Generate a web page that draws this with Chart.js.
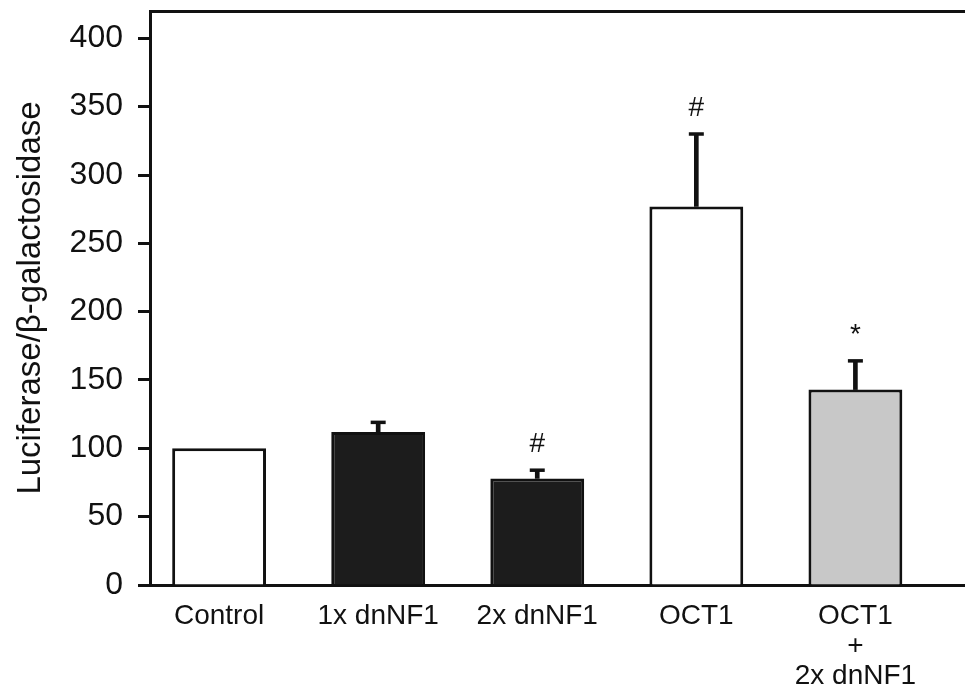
<!DOCTYPE html>
<html>
<head>
<meta charset="utf-8">
<script src="https://cdn.jsdelivr.net/npm/chart.js@4/dist/chart.umd.min.js"></script>
<style>
  html, body { margin: 0; padding: 0; background: #fff; }
  #wrap { width: 965px; height: 686px; }
</style>
</head>
<body>
<div id="wrap"><canvas id="c" width="965" height="686"></canvas></div>
<script>
// ---- data ----
const categories = ['Control', '1x dnNF1', '2x dnNF1', 'OCT1', ['OCT1', '+', '2x dnNF1']];
const values = [100, 112, 78, 277, 143];
const errors = [null, 7, 6, 53, 21];
const marks = ['', '', '#', '#', '*'];
const barColors = ['#ffffff', '#1c1c1c', '#1c1c1c', '#ffffff', '#c8c8c8'];
const yTicks = [0, 50, 100, 150, 200, 250, 300, 350, 400];
const yTitle = 'Luciferase/\u03B2-galactosidase';

const FONT = '"Liberation Sans", Arial, Helvetica, sans-serif';
const INK = '#111111';

const barData = values.map((v, i) => ({ x: i, y: v }));
const stemData = values.map((v, i) => errors[i] == null ? null : { x: i, y: [v, v + errors[i]] }).filter(d => d);
const capData = values.map((v, i) => errors[i] == null ? null : { x: i, y: v + errors[i] }).filter(d => d);

const markPlugin = {
  id: 'marks',
  afterDatasetsDraw(chart) {
    const { ctx, scales } = chart;
    ctx.save();
    ctx.fillStyle = INK;
    ctx.font = '28px ' + FONT;
    ctx.textAlign = 'center';
    ctx.textBaseline = 'alphabetic';
    marks.forEach((m, i) => {
      if (!m) return;
      const top = values[i] + (errors[i] || 0);
      const x = scales.x.getPixelForValue(i);
      const y = scales.y.getPixelForValue(top) - 18;
      ctx.fillText(m, x, y);
    });
    ctx.restore();
  }
};

const noPad = (s) => { s.paddingTop = 0; s.paddingBottom = 0; s.paddingLeft = 0; s.paddingRight = 0; };

new Chart(document.getElementById('c'), {
  data: {
    datasets: [
      {
        type: 'bar',
        data: barData,
        backgroundColor: barColors,
        borderColor: INK,
        borderWidth: 3,
        grouped: false,
        barPercentage: 1,
        categoryPercentage: 0.59,
        order: 1
      },
      {
        type: 'bar',
        data: stemData,
        backgroundColor: INK,
        borderWidth: 0,
        grouped: false,
        barThickness: 4,
        order: 2
      },
      {
        type: 'line',
        data: capData,
        showLine: false,
        pointStyle: 'line',
        pointRadius: 7.5,
        pointHoverRadius: 7.5,
        borderColor: INK,
        borderWidth: 3.5,
        order: 0
      }
    ]
  },
  options: {
    responsive: false,
    animation: false,
    events: [],
    layout: { autoPadding: false, padding: { top: 11, right: 0, left: 0, bottom: 0 } },
    plugins: { legend: { display: false }, tooltip: { enabled: false } },
    scales: {
      x: {
        type: 'linear',
        position: 'bottom',
        offset: false,
        min: -0.4344,
        max: 4.689,
        afterBuildTicks: (s) => { s.ticks = categories.map((_, i) => ({ value: i })); },
        afterFit: (s) => { s.height = 101; noPad(s); },
        grid: { display: false, offset: false },
        border: { display: true, color: INK, width: 3 },
        ticks: {
          autoSkip: false,
          maxRotation: 0,
          padding: 8,
          color: INK,
          font: { family: FONT, size: 28, lineHeight: 1.07 },
          callback: (v) => categories[v]
        }
      },
      x2: {
        type: 'linear',
        position: 'top',
        display: true,
        offset: false,
        grid: { display: false },
        ticks: { display: false },
        border: { display: true, color: INK, width: 3 },
        afterFit: (s) => { s.height = 0; noPad(s); }
      },
      y: {
        type: 'linear',
        min: 0,
        max: 420,
        afterBuildTicks: (s) => { s.ticks = yTicks.map(v => ({ value: v })); },
        afterFit: (s) => { s.width = 150; noPad(s); },
        grid: { drawOnChartArea: false, drawTicks: true, tickLength: 12, tickWidth: 3, tickColor: INK },
        border: { display: true, color: INK, width: 3 },
        ticks: {
          padding: 15,
          color: INK,
          font: { family: FONT, size: 32 }
        },
        title: {
          display: true,
          text: yTitle,
          color: INK,
          padding: { top: 11, bottom: 0 },
          font: { family: FONT, size: 33, lineHeight: 1.2 }
        }
      }
    }
  },
  plugins: [markPlugin]
});
</script>
</body>
</html>
